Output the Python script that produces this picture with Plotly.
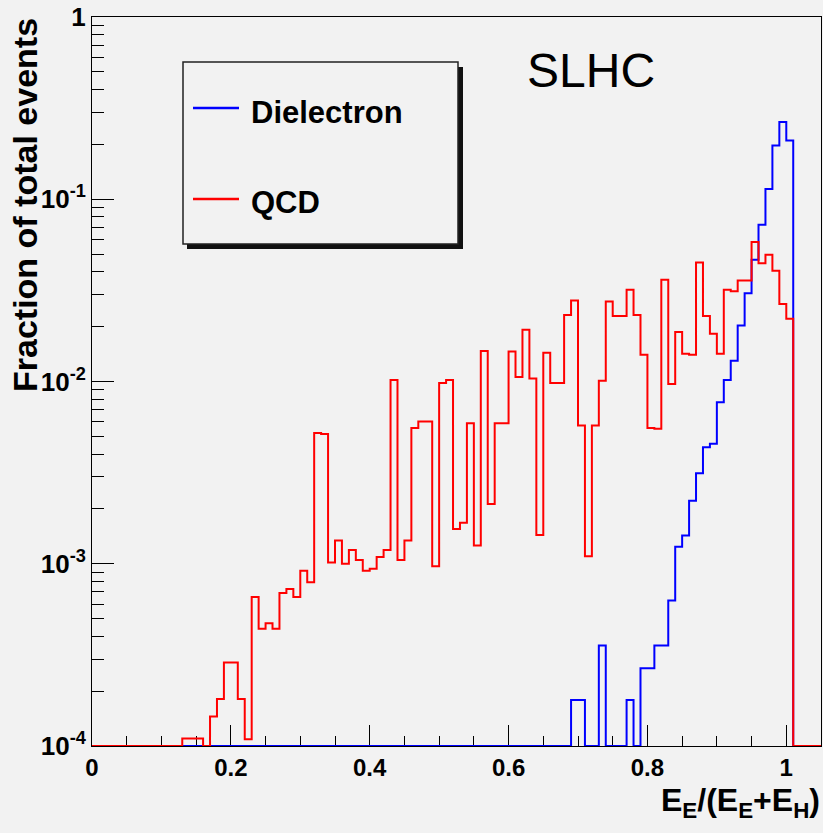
import numpy as np
import plotly.graph_objects as go

# ---------------- data (fraction of total events per bin, bin width 0.01) ----------------
bin_width = 0.01
x_min, x_max = 0.0, 1.05

qcd_bins = [0.13, 0.14, 0.15, 0.17, 0.18, 0.19, 0.20, 0.21, 0.22, 0.23, 0.24, 0.25, 0.26,
            0.27, 0.28, 0.29, 0.30, 0.31, 0.32, 0.33, 0.34, 0.35, 0.36, 0.37, 0.38, 0.39,
            0.40, 0.41, 0.42, 0.43, 0.44, 0.45, 0.46, 0.47, 0.48, 0.49, 0.50, 0.51, 0.52,
            0.53, 0.54, 0.55, 0.56, 0.57, 0.58, 0.59, 0.60, 0.61, 0.62, 0.63, 0.64, 0.65,
            0.66, 0.67, 0.68, 0.69, 0.70, 0.71, 0.72, 0.73, 0.74, 0.75, 0.76, 0.77, 0.78,
            0.79, 0.80, 0.81, 0.82, 0.83, 0.84, 0.85, 0.86, 0.87, 0.88, 0.89, 0.90, 0.91,
            0.92, 0.93, 0.94, 0.95, 0.96, 0.97, 0.98, 0.99, 1.00]
qcd_values = [1.1e-4, 1.1e-4, 1.1e-4, 1.45e-4, 1.81e-4, 2.87e-4, 2.87e-4, 1.81e-4, 1.09e-4,
              6.56e-4, 4.4e-4, 4.72e-4, 4.4e-4, 6.9e-4, 7.26e-4, 6.56e-4, 9.14e-4, 7.92e-4,
              5.21e-3, 5.15e-3, 1.016e-3, 1.34e-3, 1.0e-3, 1.19e-3, 1.05e-3, 9.14e-4,
              9.4e-4, 1.09e-3, 1.19e-3, 1.02e-2, 1.05e-3, 1.34e-3, 5.55e-3, 6.04e-3,
              6.04e-3, 9.7e-4, 9.8e-3, 1.02e-2, 1.55e-3, 1.68e-3, 5.9e-3, 1.26e-3, 1.47e-2,
              2.13e-3, 5.9e-3, 5.9e-3, 1.46e-2, 1.06e-2, 1.92e-2, 1.04e-2, 1.44e-3, 1.44e-2,
              9.8e-3, 9.8e-3, 2.32e-2, 2.78e-2, 5.74e-3, 1.10e-3, 5.74e-3, 1.01e-2, 2.75e-2,
              2.29e-2, 2.29e-2, 3.19e-2, 2.32e-2, 1.40e-2, 5.55e-3, 5.5e-3, 3.62e-2, 9.7e-3,
              1.87e-2, 1.42e-2, 1.40e-2, 4.5e-2, 2.29e-2, 1.83e-2, 1.42e-2, 3.19e-2, 3.13e-2,
              3.58e-2, 3.58e-2, 5.82e-2, 4.45e-2, 4.96e-2, 4.05e-2, 2.66e-2, 2.21e-2]

ele_bins = [0.69, 0.70, 0.73, 0.77, 0.79, 0.80, 0.81, 0.82, 0.83, 0.84, 0.85, 0.86, 0.87,
            0.88, 0.89, 0.90, 0.91, 0.92, 0.93, 0.94, 0.95, 0.96, 0.97, 0.98, 0.99, 1.00]
ele_values = [1.79e-4, 1.79e-4, 3.56e-4, 1.79e-4, 2.67e-4, 2.67e-4, 3.56e-4, 3.56e-4,
              6.28e-4, 1.24e-3, 1.43e-3, 2.22e-3, 3.14e-3, 4.36e-3, 4.55e-3, 7.7e-3,
              1.02e-2, 1.30e-2, 2.03e-2, 3.05e-2, 4.66e-2, 7.25e-2, 0.114, 0.197, 0.265, 0.21]

x_ticks = [0, 0.2, 0.4, 0.6, 0.8, 1.0]
y_ticks = [1e-4, 1e-3, 1e-2, 1e-1, 1]
y_ticktext = ["10<sup>-4</sup>", "10<sup>-3</sup>", "10<sup>-2</sup>", "10<sup>-1</sup>", "1"]
y_floor = 1e-4

# ---------------- build full histograms ----------------
n_bins = int(round((x_max - x_min) / bin_width))
edges = np.round(x_min + bin_width * np.arange(n_bins + 1), 4)


def full_hist(bins, values):
    h = np.zeros(n_bins)
    for b, v in zip(bins, values):
        h[int(round((b - x_min) / bin_width))] = v
    h = np.maximum(h, y_floor)  # empty bins drawn on the axis floor (log scale)
    xs = list(edges)
    ys = list(h) + [h[-1]]
    return xs, ys


W, H = 823, 833
ML, MR, MT, MB = 92, 2, 17, 87
PW, PH = W - ML - MR, H - MT - MB


def px_x(px):
    return (px - ML) / PW


def px_y(py):
    return (H - MB - py) / PH


FONT = "Liberation Sans, Arial, sans-serif"
BG = "#f2f2f2"

fig = go.Figure()
xe, ye = full_hist(ele_bins, ele_values)
fig.add_trace(go.Scatter(x=xe, y=ye, mode="lines", line=dict(color="#0000ff", width=2, shape="hv"),
                         name="Dielectron", showlegend=False, hoverinfo="skip"))
xq, yq = full_hist(qcd_bins, qcd_values)
fig.add_trace(go.Scatter(x=xq, y=yq, mode="lines", line=dict(color="#ff0000", width=2, shape="hv"),
                         name="QCD", showlegend=False, hoverinfo="skip"))

fig.update_xaxes(range=[x_min, x_max], tickvals=x_ticks, ticks="inside", ticklen=21,
                 tickwidth=1, tickcolor="black", showline=True, linecolor="black", linewidth=1,
                 mirror=True, showgrid=False, zeroline=False, layer="below traces",
                 automargin=False,
                 tickfont=dict(family=FONT, size=24, color="black", weight="bold"),
                 minor=dict(dtick=0.05, ticks="inside", ticklen=10, tickwidth=1, tickcolor="black",
                            showgrid=False))

y_minor = [m * 10.0 ** e for e in range(-4, 0) for m in range(2, 10)]
fig.update_yaxes(type="log", range=[-4, 0], tickvals=y_ticks, ticktext=y_ticktext,
                 ticks="inside", ticklen=22, tickwidth=1, tickcolor="black", showline=True,
                 linecolor="black", linewidth=1, mirror=True, showgrid=False, zeroline=False,
                 layer="below traces", automargin=False,
                 tickfont=dict(family=FONT, size=26, color="black", weight="bold"),
                 minor=dict(tickmode="array", tickvals=y_minor, ticks="inside", ticklen=12,
                            tickwidth=1, tickcolor="black", showgrid=False))

shapes = [
    # legend shadow
    dict(type="rect", xref="paper", yref="paper", x0=px_x(187), x1=px_x(463), y0=px_y(249),
         y1=px_y(67), fillcolor="#111111", line=dict(width=0), layer="above"),
    # legend box
    dict(type="rect", xref="paper", yref="paper", x0=px_x(183), x1=px_x(458), y0=px_y(244),
         y1=px_y(62), fillcolor=BG, line=dict(color="#222222", width=1.5), layer="above"),
    dict(type="line", xref="paper", yref="paper", x0=px_x(193), x1=px_x(239), y0=px_y(108),
         y1=px_y(108), line=dict(color="#0000ff", width=2.5), layer="above"),
    dict(type="line", xref="paper", yref="paper", x0=px_x(193), x1=px_x(239), y0=px_y(199),
         y1=px_y(199), line=dict(color="#ff0000", width=2.5), layer="above"),
]

annotations = [
    dict(text="Dielectron", xref="paper", yref="paper", x=px_x(249), y=px_y(112),
         xanchor="left", yanchor="middle", showarrow=False,
         font=dict(family=FONT, size=31, color="black", weight="bold")),
    dict(text="QCD", xref="paper", yref="paper", x=px_x(249), y=px_y(203),
         xanchor="left", yanchor="middle", showarrow=False,
         font=dict(family=FONT, size=31, color="black", weight="bold")),
    dict(text="SLHC", xref="paper", yref="paper", x=px_x(591), y=px_y(70),
         xanchor="center", yanchor="middle", showarrow=False,
         font=dict(family=FONT, size=48, color="black")),
    dict(text="Fraction of total events", xref="paper", yref="paper", x=px_x(25), y=px_y(16),
         xanchor="center", yanchor="top", textangle=-90, showarrow=False,
         font=dict(family=FONT, size=34, color="black", weight="bold")),
    dict(text="E<sub>E</sub>/(E<sub>E</sub>+E<sub>H</sub>)", xref="paper", yref="paper",
         x=px_x(822), y=px_y(780), xanchor="right", yanchor="top", showarrow=False,
         font=dict(family=FONT, size=32, color="black", weight="bold")),
]

fig.update_layout(width=W, height=H, margin=dict(l=ML, r=MR, t=MT, b=MB, pad=0, autoexpand=False),
                  paper_bgcolor=BG, plot_bgcolor=BG, shapes=shapes, annotations=annotations,
                  showlegend=False)

fig.write_html("out.html", config={"displayModeBar": False},
               post_script="document.body.style.margin='0px';"
                           "document.body.style.background='" + BG + "';")
